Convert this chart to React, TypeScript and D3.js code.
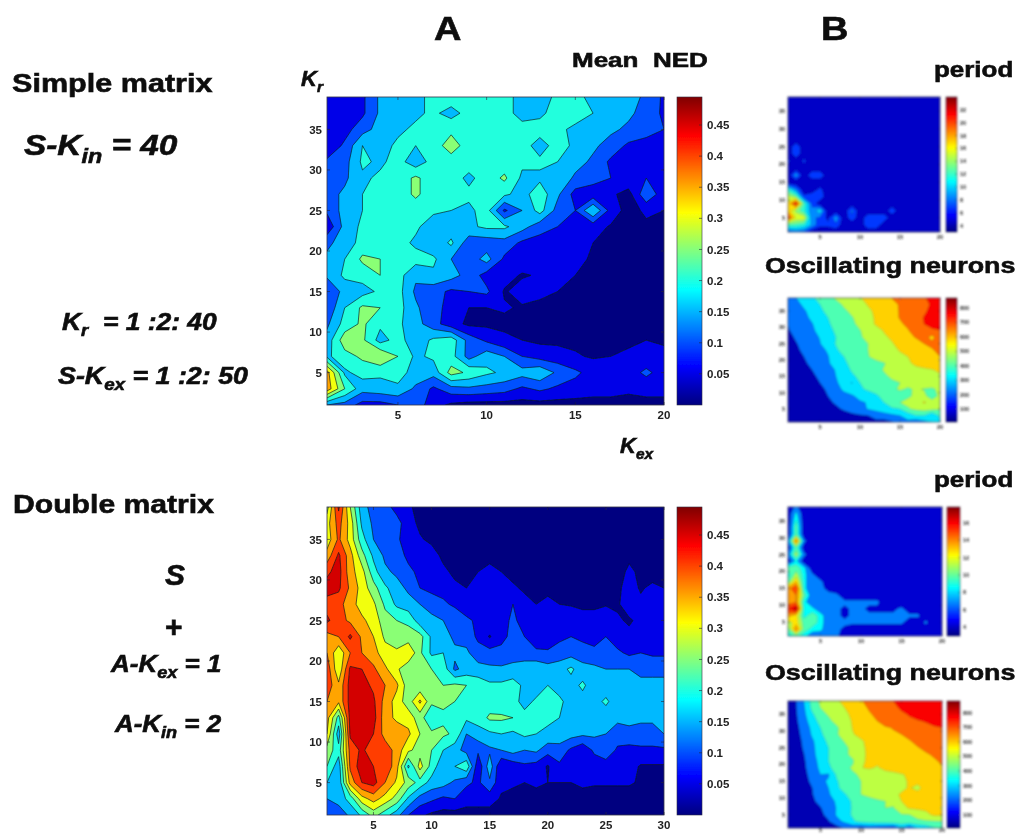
import React from "react";
import * as d3 from "d3";

// ---- Mean NED, simple matrix: rows Kr = 39..1 (step 2), columns Kex = 1..20
const nedSimple = [
  [.08,.07,.09,.16,.18,.19,.21,.23,.22,.22,.21,.19,.18,.21,.21,.19,.18,.17,.14,.09],
  [.07,.07,.09,.16,.17,.19,.21,.18,.22,.23,.22,.18,.19,.22,.22,.2,.18,.16,.13,.09],
  [.05,.08,.13,.17,.19,.21,.22,.24,.22,.22,.22,.22,.22,.21,.19,.17,.16,.14,.12,.1],
  [.06,.11,.2,.18,.21,.2,.23,.27,.23,.22,.22,.22,.18,.22,.19,.16,.13,.09,.08,.08],
  [.11,.13,.21,.19,.22,.17,.22,.23,.22,.22,.22,.21,.21,.2,.17,.14,.09,.08,.07,.07],
  [.12,.14,.19,.21,.22,.26,.22,.22,.19,.22,.26,.19,.19,.19,.14,.12,.1,.09,.1,.08],
  [.13,.16,.2,.21,.22,.26,.22,.21,.21,.25,.21,.18,.23,.16,.08,.07,.06,.03,.14,.07],
  [.11,.17,.2,.22,.22,.22,.21,.2,.19,.22,.09,.15,.22,.13,.1,.2,.08,.03,.06,.05],
  [.06,.17,.21,.22,.22,.21,.17,.17,.19,.21,.21,.17,.12,.1,.08,.07,.045,.04,.04,.04],
  [.14,.17,.22,.22,.22,.19,.16,.21,.12,.12,.13,.09,.08,.07,.06,.05,.04,.04,.04,.04],
  [.16,.2,.26,.25,.22,.22,.21,.15,.12,.17,.09,.08,.055,.1,.06,.045,.04,.04,.04,.04],
  [.16,.21,.22,.25,.22,.16,.19,.17,.13,.08,.07,.045,.055,.05,.05,.04,.04,.04,.04,.04],
  [.1,.17,.18,.21,.22,.14,.12,.09,.1,.11,.045,.07,.06,.05,.045,.045,.05,.04,.04,.04],
  [.11,.2,.26,.25,.22,.16,.11,.09,.05,.05,.055,.045,.04,.04,.04,.04,.04,.04,.04,.04],
  [.14,.22,.26,.21,.21,.17,.12,.07,.04,.04,.04,.03,.03,.03,.03,.03,.03,.03,.03,.03],
  [.17,.28,.26,.18,.22,.17,.21,.23,.13,.09,.06,.05,.04,.04,.04,.04,.04,.04,.05,.04],
  [.19,.23,.26,.3,.25,.19,.21,.22,.13,.18,.15,.1,.08,.07,.055,.045,.05,.06,.07,.07],
  [.37,.19,.22,.21,.22,.18,.17,.27,.24,.21,.19,.17,.19,.14,.11,.08,.08,.08,.11,.08],
  [.38,.25,.17,.18,.19,.14,.09,.13,.14,.13,.12,.09,.11,.09,.08,.07,.07,.06,.07,.07],
  [.15,.13,.08,.08,.1,.13,.07,.04,.03,.03,.03,.03,.03,.03,.03,.03,.03,.03,.03,.03],
];

// ---- Mean NED, double matrix: rows Kr = 39..1, columns Kex = 1..30
const nedDouble = [
  [.28,.46,.3,.17,.13,.12,.08,.06,.03,.03,.03,.03,.03,.03,.03,.03,.03,.03,.03,.03,.03,.03,.03,.03,.03,.03,.03,.03,.03,.03],
  [.33,.42,.33,.19,.14,.13,.12,.07,.04,.03,.03,.03,.03,.03,.03,.03,.03,.03,.03,.03,.03,.03,.03,.03,.03,.03,.03,.03,.03,.03],
  [.32,.41,.33,.22,.15,.13,.11,.07,.055,.04,.03,.03,.03,.03,.03,.03,.03,.03,.03,.03,.03,.03,.03,.03,.03,.03,.03,.03,.03,.03],
  [.37,.46,.37,.27,.19,.14,.12,.09,.07,.07,.04,.03,.03,.03,.03,.03,.03,.03,.03,.03,.03,.03,.03,.03,.03,.03,.04,.03,.03,.03],
  [.44,.47,.37,.32,.22,.16,.14,.11,.09,.08,.06,.04,.04,.05,.07,.05,.04,.03,.03,.03,.03,.03,.03,.03,.03,.03,.06,.04,.03,.03],
  [.47,.46,.39,.33,.27,.21,.17,.14,.1,.09,.08,.06,.05,.06,.07,.07,.055,.045,.04,.045,.04,.04,.04,.04,.04,.04,.07,.045,.06,.05],
  [.43,.42,.37,.33,.31,.24,.19,.17,.15,.12,.11,.09,.07,.08,.08,.09,.1,.06,.05,.055,.05,.045,.045,.045,.045,.045,.07,.06,.05,.05],
  [.46,.42,.39,.36,.33,.27,.25,.24,.17,.17,.15,.14,.11,.09,.09,.08,.11,.08,.06,.07,.08,.09,.06,.06,.09,.055,.045,.06,.06,.06],
  [.38,.4,.46,.39,.35,.29,.27,.27,.27,.19,.17,.14,.13,.09,.045,.09,.11,.1,.07,.06,.09,.1,.09,.07,.1,.07,.06,.07,.07,.07],
  [.4,.31,.4,.4,.37,.32,.31,.35,.26,.19,.2,.16,.16,.12,.12,.11,.12,.13,.11,.11,.12,.13,.12,.12,.1,.11,.09,.1,.09,.09],
  [.43,.31,.46,.45,.41,.36,.31,.26,.26,.25,.23,.14,.17,.17,.16,.16,.17,.17,.19,.17,.18,.21,.17,.16,.15,.15,.15,.14,.14,.14],
  [.43,.36,.47,.47,.44,.4,.36,.27,.26,.26,.25,.26,.25,.23,.21,.21,.22,.19,.17,.2,.18,.18,.21,.17,.17,.16,.16,.16,.16,.16],
  [.4,.36,.47,.47,.46,.38,.33,.27,.36,.26,.26,.25,.23,.22,.22,.21,.22,.18,.21,.22,.21,.18,.18,.18,.21,.17,.17,.16,.16,.16],
  [.37,.23,.47,.48,.47,.37,.34,.33,.27,.21,.24,.21,.21,.22,.26,.26,.25,.22,.21,.21,.2,.18,.17,.17,.17,.16,.16,.16,.16,.16],
  [.35,.17,.46,.47,.45,.38,.38,.36,.3,.26,.26,.24,.15,.18,.19,.2,.19,.21,.2,.19,.18,.17,.16,.16,.15,.13,.14,.13,.13,.15],
  [.28,.22,.42,.46,.42,.43,.38,.31,.28,.25,.2,.17,.13,.11,.14,.15,.17,.15,.16,.12,.13,.09,.06,.11,.14,.09,.08,.09,.09,.09],
  [.25,.17,.41,.48,.45,.44,.37,.19,.32,.23,.16,.2,.24,.06,.18,.05,.07,.09,.08,.045,.09,.07,.08,.07,.07,.08,.07,.045,.045,.045],
  [.2,.16,.37,.45,.47,.4,.34,.28,.23,.18,.17,.14,.11,.09,.14,.06,.055,.05,.06,.05,.05,.05,.06,.055,.055,.055,.055,.045,.03,.03],
  [.15,.17,.22,.33,.37,.33,.28,.19,.13,.11,.09,.1,.07,.07,.07,.045,.04,.03,.03,.03,.03,.03,.03,.03,.03,.03,.03,.03,.03,.03],
  [.1,.12,.16,.21,.27,.22,.17,.1,.06,.04,.03,.03,.03,.03,.03,.03,.03,.03,.03,.03,.03,.03,.03,.03,.03,.03,.03,.03,.03,.03],
];

// ---- Period, simple matrix
const periodSimple = [
  [3,3,3,3,3,3,3,3,3,3,3,3,3,3,3,3,3,3,3,3],
  [3,3,3,3,3,3,3,3,3,3,3,3,3,3,3,3,3,3,3,3],
  [3,3,3,3,3,3,3,3,3,3,3,3,3,3,3,3,3,3,3,3],
  [3,3,3,3,3,3,3,3,3,3,3,3,3,3,3,3,3,3,3,3],
  [3,3,3,3,3,3,3,3,3,3,3,3,3,3,3,3,3,3,3,3],
  [3,3,3,3,3,3,3,3,3,3,3,3,3,3,3,3,3,3,3,3],
  [3,3,3,3,3,3,3,3,3,3,3,3,3,3,3,3,3,3,3,3],
  [3,6,3,3,3,3,3,3,3,3,3,3,3,3,3,3,3,3,3,3],
  [3,6,3,3,3,3,3,3,3,3,3,3,3,3,3,3,3,3,3,3],
  [5,3,5,3,3,3,3,3,3,3,3,3,3,3,3,3,3,3,3,3],
  [3,3,3,3,3,3,3,3,3,3,3,3,3,3,3,3,3,3,3,3],
  [3,8,3,6,6,3,3,3,3,3,3,3,3,3,3,3,3,3,3,3],
  [3,3,3,3,3,3,3,3,3,3,3,3,3,3,3,3,3,3,3,3],
  [11,7,3,3,5,3,3,3,3,3,3,3,3,3,3,3,3,3,3,3],
  [15,13,5,6,6,3,3,3,3,3,3,3,3,3,3,3,3,3,3,3],
  [17,23,12,6,3,3,3,3,3,3,3,3,3,3,3,3,3,3,3,3],
  [18,14,11,7,10,3,3,3,7,3,3,3,3,6,3,3,3,3,3,3],
  [22,16,16,7,6,4,8,3,6,3,6,6,6,3,3,3,3,3,3,3],
  [12,12,11,8,5,5,6,3,3,3,6,6,3,3,3,3,3,3,3,3],
  [6,7,6,3,3,3,3,3,3,3,3,3,3,3,3,3,3,3,3,3],
];

// ---- Oscillating neurons, simple matrix
const oscSimple = [
  [150,198,240,285,330,370,415,445,470,495,525,550,575,602,625,650,670,690,730,760],
  [130,175,215,260,300,335,365,415,440,470,505,535,560,585,605,630,655,680,710,750],
  [115,155,190,230,285,320,350,385,420,450,485,515,545,580,605,630,655,685,725,770],
  [115,145,180,215,260,300,335,370,395,435,475,510,545,575,605,630,660,705,730,760],
  [105,135,170,195,240,290,325,350,385,420,465,510,540,565,590,615,655,700,740,760],
  [92,125,155,185,225,280,310,345,365,397,430,465,505,535,570,595,635,665,680,695],
  [75,110,140,170,205,270,300,335,360,390,425,465,490,510,540,580,605,640,570,670],
  [65,95,125,155,195,260,305,335,355,380,400,435,465,495,520,550,575,600,625,650],
  [55,85,115,145,175,210,290,325,350,370,400,410,445,480,505,535,555,575,590,630],
  [45,75,100,130,160,195,250,300,340,375,395,430,455,470,485,500,525,550,575,600],
  [40,65,90,115,150,190,235,290,315,330,355,375,395,430,465,485,520,540,560,580],
  [35,55,80,100,130,175,205,265,310,330,350,380,405,425,445,465,475,485,495,520],
  [30,50,70,90,110,160,200,240,285,320,345,370,390,410,425,440,450,460,470,485],
  [25,45,60,80,100,130,190,230,195,300,335,360,395,390,400,425,440,450,465,480],
  [20,35,50,70,85,110,160,220,250,290,310,340,375,385,410,390,410,395,380,430],
  [15,30,45,60,75,100,130,165,190,225,260,285,330,345,350,385,420,440,320,440],
  [12,25,35,50,65,85,110,140,165,190,205,260,300,340,400,425,450,510,470,480],
  [10,20,28,40,50,65,85,110,140,170,205,230,265,290,300,390,420,440,430,410],
  [8,15,22,30,40,50,60,70,80,90,100,130,150,180,200,240,300,300,200,330],
  [5,10,15,20,25,30,35,40,50,60,70,80,70,90,150,180,130,170,200,280],
];

// ---- Period, double matrix
const periodDouble = [
  [0,1,0,0,0,0,0,0,0,0,0,0,0,0,0,0,0,0,0,0],
  [0,2,0,0,0,0,0,0,0,0,0,0,0,0,0,0,0,0,0,0],
  [0,2.5,0,0,0,0,0,0,0,0,0,0,0,0,0,0,0,0,0,0],
  [0,3,0,0,0,0,0,0,0,0,0,0,0,0,0,0,0,0,0,0],
  [0,3,0,0,0,0,0,0,0,0,0,0,0,0,0,0,0,0,0,0],
  [1,6.5,1,0,0,0,0,0,0,0,0,0,0,0,0,0,0,0,0,0],
  [0,3,0,0,0,0,0,0,0,0,0,0,0,0,0,0,0,0,0,0],
  [1,4,1,0,0,0,0,0,0,0,0,0,0,0,0,0,0,0,0,0],
  [0,2,0,0,0,0,0,0,0,0,0,0,0,0,0,0,0,0,0,0],
  [3,3,2,0,0,0,0,0,0,0,0,0,0,0,0,0,0,0,0,0],
  [2,4,2,1,0,0,0,0,0,0,0,0,0,0,0,0,0,0,0,0],
  [3,5.5,2,1,1,0,0,0,0,0,0,0,0,0,0,0,0,0,0,0],
  [6,7.5,2,1,1,.5,0,0,0,0,0,0,0,0,0,0,0,0,0,0],
  [6,6.5,3,1,1,1,1,0,0,0,0,0,0,0,0,0,0,0,0,0],
  [6,6.5,2,1,1,1,1,1,1,1,1,1,0,0,0,0,0,0,0,0],
  [7.5,9,2,2,1,1,1,.5,1,1,.5,.5,.5,.5,1,0,0,0,0,0],
  [6,5,2.2,3,2.2,1,1,.5,1,1,1,1,1,1,1,1,1,0,0,0],
  [4,5,3,3,2.2,1,1,1,1,1,1,1,1,1,1,0,0,1,0,0],
  [3,6.5,3,2.2,2,1,1,.5,0,0,0,0,0,0,0,0,0,0,0,0],
  [2,3,2,1,1,1,1,0,0,0,0,0,0,0,0,0,0,0,0,0],
];

// ---- Oscillating neurons, double matrix
const oscDouble = [
  [80,98,205,340,420,445,490,520,560,595,620,640,665,700,720,730,745,755,765,775],
  [75,95,190,330,400,430,470,500,530,570,610,635,660,685,710,735,745,755,765,775],
  [70,90,180,285,370,410,450,485,515,550,590,620,645,670,690,705,730,745,760,770],
  [65,85,160,260,330,380,430,480,505,540,575,600,640,655,675,690,695,705,730,745],
  [60,80,135,230,300,360,385,450,505,530,555,575,590,605,625,650,665,680,690,700],
  [55,75,125,215,280,350,390,445,495,520,545,565,580,590,600,625,640,655,670,680],
  [50,70,115,185,260,320,375,405,460,490,520,535,555,570,585,595,625,640,655,670],
  [45,65,110,180,245,300,345,385,420,480,520,530,540,555,570,585,595,620,640,650],
  [40,60,100,175,240,300,345,385,420,480,515,525,535,545,555,565,575,590,610,640],
  [35,55,90,160,230,300,325,375,390,490,510,520,530,540,550,560,570,580,590,610],
  [30,50,85,150,220,280,345,380,410,495,515,490,525,535,545,555,565,575,585,595],
  [28,45,80,130,200,190,315,365,390,410,430,450,465,480,495,510,525,540,550,560],
  [25,42,70,120,180,210,290,350,385,400,425,440,455,470,490,505,520,530,540,555],
  [22,40,65,100,170,200,280,340,380,400,415,430,445,470,490,505,480,530,540,550],
  [20,38,60,95,150,190,240,290,350,400,420,445,470,490,505,515,525,530,535,540],
  [18,35,55,85,125,170,210,270,310,340,370,385,400,420,500,515,525,530,535,540],
  [15,30,50,75,95,140,205,260,310,350,370,385,400,395,470,510,520,525,530,490],
  [12,25,40,60,85,120,210,270,310,330,350,370,380,390,395,400,430,470,520,520],
  [10,20,32,50,70,95,170,220,290,325,340,350,360,370,375,380,385,390,395,400],
  [6,12,20,30,40,50,60,110,120,90,120,100,80,70,180,90,200,240,290,330],
];

const nedLevels = [.05,.1,.15,.2,.25,.3,.35,.4,.45];
const nedColorbarTicks = [.05,.1,.15,.2,.25,.3,.35,.4,.45];
const periodLevels = [4.5,6.5,8.5,10.5,12.5,14.5,16.5,18.5,20.5,22.5];
const periodSimpleTicks = [4,6,8,10,12,14,16,18,20,22];
const periodDoubleLevels = [.75,1.75,2.5,3.5,4.5,5.5,6.5,7.5,8.5];
const periodDoubleTicks = [4,6,8,10,12,14,16];
const oscLevels = [100,200,300,400,500,600,700,800];
const oscTicks = [100,200,300,400,500,600,700,800];
const krTicks = [5,10,15,20,25,30,35];
const kexTicks20 = [5,10,15,20];
const kexTicks30 = [5,10,15,20,25,30];

const clamp = (v: number) => Math.max(0, Math.min(1, v));
function jet(t: number) {
  const r = clamp(Math.min(4 * t - 1.5, -4 * t + 4.5));
  const g = clamp(Math.min(4 * t - 0.5, -4 * t + 3.5));
  const b = clamp(Math.min(4 * t + 0.5, -4 * t + 2.5));
  return d3.rgb(r * 255, g * 255, b * 255).formatHex();
}

const FONT = "'Liberation Sans', Arial, sans-serif";

type PanelProps = {
  id: string; grid: number[][]; levels: number[]; bandT: number[];
  box: [number, number, number, number]; bar: [number, number];
  xDomain: [number, number]; yDomain: [number, number];
  xTicks: number[]; yTicks: number[]; barTicks: number[]; barDomain: [number, number];
  barFmt: (v: number) => string; fontSize: number; tickLen: number;
  lineOpacity: number; lineWidth: number; blur: string; labelGap: number; xLabelGap: number;
};

function Panel(p: PanelProps) {
  const [x0, y0, x1, y1] = p.box;
  const nRows = p.grid.length, nCols = p.grid[0].length;
  const flat = p.grid.flat();
  const sx = d3.scaleLinear([0.5, nCols - 0.5], [x0, x1]);
  const sy = d3.scaleLinear([0.5, nRows - 0.5], [y0, y1]);
  const path = d3.geoPath(d3.geoTransform({
    point(x: number, y: number) { (this as any).stream.point(sx(x), sy(y)); },
  }));
  const contours = d3.contours().size([nCols, nRows]).thresholds(p.levels)(flat);
  const ax = d3.scaleLinear(p.xDomain, [x0, x1]);
  const ay = d3.scaleLinear(p.yDomain, [y1, y0]);
  const by = d3.scaleLinear(p.barDomain, [y1, y0]);
  const stops = d3.range(0, 65).map((i) => i / 64);
  return (
    <g filter={`url(#${p.blur})`} fontFamily={FONT} fontWeight="bold" fontSize={p.fontSize} fill="#222">
      <defs>
        <clipPath id={`clip-${p.id}`}><rect x={x0} y={y0} width={x1 - x0} height={y1 - y0} /></clipPath>
        <linearGradient id={`grad-${p.id}`} x1="0" y1="1" x2="0" y2="0">
          {stops.map((t) => <stop key={t} offset={t} stopColor={jet(t)} />)}
        </linearGradient>
      </defs>
      <g clipPath={`url(#clip-${p.id})`}>
        <rect x={x0} y={y0} width={x1 - x0} height={y1 - y0} fill={jet(p.bandT[0])} />
        {contours.map((c, i) => (
          <path key={i} d={path(c as any) || ""} fill={jet(p.bandT[i + 1])}
            stroke="#0c1c1c" strokeOpacity={p.lineOpacity} strokeWidth={p.lineWidth} strokeLinejoin="round" />
        ))}
      </g>
      <rect x={x0} y={y0} width={x1 - x0} height={y1 - y0} fill="none" stroke="#334" strokeWidth={0.8} />
      {p.xTicks.map((t) => (
        <g key={t}>
          <line x1={ax(t)} x2={ax(t)} y1={y1} y2={y1 - p.tickLen} stroke="#223" strokeWidth={0.6} />
          <line x1={ax(t)} x2={ax(t)} y1={y0} y2={y0 + p.tickLen} stroke="#223" strokeWidth={0.6} />
          <text x={ax(t)} y={y1 + p.xLabelGap + p.fontSize * 0.72} textAnchor="middle">{t}</text>
        </g>
      ))}
      {p.yTicks.map((t) => (
        <g key={t}>
          <line x1={x0} x2={x0 + p.tickLen} y1={ay(t)} y2={ay(t)} stroke="#223" strokeWidth={0.6} />
          <line x1={x1} x2={x1 - p.tickLen} y1={ay(t)} y2={ay(t)} stroke="#223" strokeWidth={0.6} />
          <text x={x0 - p.labelGap} y={ay(t) + p.fontSize * 0.36} textAnchor="end">{t}</text>
        </g>
      ))}
      <rect x={p.bar[0]} y={y0} width={p.bar[1] - p.bar[0]} height={y1 - y0} fill={`url(#grad-${p.id})`} stroke="#334" strokeWidth={0.6} />
      {p.barTicks.map((t) => (
        <g key={t}>
          <line x1={p.bar[1]} x2={p.bar[1] - p.tickLen} y1={by(t)} y2={by(t)} stroke="#223" strokeWidth={0.6} />
          <text x={p.bar[1] + p.labelGap} y={by(t) + p.fontSize * 0.36}>{p.barFmt(t)}</text>
        </g>
      ))}
    </g>
  );
}

type Seg = [string, boolean?];
function Label({ x, y, size, italic = true, segs, stretch = 1 }: { x: number; y: number; size: number; italic?: boolean; segs: Seg[]; stretch?: number }) {
  return (
    <text transform={`translate(${x},${y}) scale(${stretch},1)`} fontFamily={FONT} fontWeight="bold"
      fontStyle={italic ? "italic" : "normal"} fontSize={size}
      fill="#111" stroke="#111" strokeWidth={0.6} xmlSpace="preserve">
      {segs.map(([s, sub], i) => {
        const prevSub = i > 0 && segs[i - 1][1];
        const dy = sub ? size * 0.28 : prevSub ? -size * 0.28 : 0;
        return <tspan key={i} dy={dy} fontSize={sub ? size * 0.7 : size}>{s}</tspan>;
      })}
    </text>
  );
}

const fmtNed = (v: number) => String(+v.toFixed(2));
const fmtInt = (v: number) => String(v);

export default function App() {
  const bigBase = {
    fontSize: 11.5, tickLen: 3, lineOpacity: 0.75, lineWidth: 0.9, blur: "soft", labelGap: 5, xLabelGap: 6,
    yDomain: [1, 39] as [number, number], yTicks: krTicks,
    barTicks: nedColorbarTicks, barDomain: [0, 0.495] as [number, number], barFmt: fmtNed,
    levels: nedLevels, bandT: [0, ...nedLevels.map((l) => l / 0.49)],
  };
  const smallBase = {
    fontSize: 5.5, tickLen: 1.5, lineOpacity: 0.3, lineWidth: 0.5, blur: "softer", labelGap: 3, xLabelGap: 3,
    yDomain: [1, 39] as [number, number], yTicks: krTicks, xDomain: [1, 20] as [number, number],
    xTicks: kexTicks20, barFmt: fmtInt,
  };
  const oscT = [0.05, 0.24, 0.35, 0.45, 0.56, 0.67, 0.77, 0.88, 0.95];
  return (
    <svg width={1020} height={834} viewBox="0 0 1020 834"
      style={{ position: "absolute", left: 0, top: 0, display: "block", background: "#fff" }}>
      <defs>
        <filter id="soft" x="-5%" y="-5%" width="110%" height="110%"><feGaussianBlur stdDeviation="0.6" /></filter>
        <filter id="softer" x="-5%" y="-5%" width="110%" height="110%"><feGaussianBlur stdDeviation="0.9" /></filter>
        <filter id="text" x="-5%" y="-5%" width="110%" height="110%"><feGaussianBlur stdDeviation="0.4" /></filter>
      </defs>

      <Panel id="a1" {...bigBase} grid={nedSimple} box={[327, 97, 664, 405]} bar={[677, 702]} xDomain={[1, 20]} xTicks={kexTicks20} />
      <Panel id="a2" {...bigBase} grid={nedDouble} box={[327, 507, 664, 815]} bar={[677, 702]} xDomain={[1, 30]} xTicks={kexTicks30} />
      <Panel id="b1" {...smallBase} grid={periodSimple} levels={periodLevels}
        bandT={[0.07, ...periodLevels.map((l) => l / 25)]} box={[788, 97, 940, 232]} bar={[946, 957]}
        barTicks={periodSimpleTicks} barDomain={[3, 24]} />
      <Panel id="b2" {...smallBase} grid={oscSimple} levels={oscLevels} bandT={oscT}
        box={[788, 298, 940, 422]} bar={[946, 957]} barTicks={oscTicks} barDomain={[10, 870]} />
      <Panel id="b3" {...smallBase} grid={periodDouble} levels={periodDoubleLevels}
        bandT={[0.08, 0.25, 0.38, 0.45, 0.55, 0.65, 0.72, 0.8, 0.88, 0.95]} box={[788, 507, 942, 636]} bar={[947, 960]}
        barTicks={periodDoubleTicks} barDomain={[3, 17.8]} />
      <Panel id="b4" {...smallBase} grid={oscDouble} levels={oscLevels} bandT={oscT} xLabelGap={0.5}
        box={[788, 701, 942, 828]} bar={[947, 960]} barTicks={oscTicks} barDomain={[10, 880]} />

      <g filter="url(#text)">
        <Label x={434} y={40} size={33} italic={false} segs={[["A"]]} stretch={1.15} />
        <Label x={821} y={40} size={33} italic={false} segs={[["B"]]} stretch={1.15} />
        <Label x={572} y={67} size={20} italic={false} segs={[["Mean  NED"]]} stretch={1.3} />
        <Label x={301} y={86} size={22} segs={[["K"], ["r", true]]} />
        <Label x={620} y={453} size={22} segs={[["K"], ["ex", true]]} />
        <Label x={12} y={92} size={26} italic={false} segs={[["Simple matrix"]]} stretch={1.176} />
        <Label x={24} y={155} size={29} segs={[["S-K"], ["in", true], [" = 40"]]} stretch={1.15} />
        <Label x={62} y={330} size={23} segs={[["K"], ["r", true], ["  = 1 :2: 40"]]} stretch={1.148} />
        <Label x={58} y={384} size={23} segs={[["S-K"], ["ex", true], [" = 1 :2: 50"]]} stretch={1.166} />
        <Label x={13} y={513} size={26} italic={false} segs={[["Double matrix"]]} stretch={1.16} />
        <Label x={165} y={585} size={30} segs={[["S"]]} />
        <Label x={165} y={637} size={30} italic={false} segs={[["+"]]} />
        <Label x={111} y={672} size={23} segs={[["A-K"], ["ex", true], [" = 1"]]} stretch={1.13} />
        <Label x={115} y={732} size={23} segs={[["A-K"], ["in", true], [" = 2"]]} stretch={1.126} />
        <Label x={934} y={77} size={22} italic={false} segs={[["period"]]} stretch={1.18} />
        <Label x={934} y={487} size={22} italic={false} segs={[["period"]]} stretch={1.18} />
        <Label x={765} y={273} size={22} italic={false} segs={[["Oscillating neurons"]]} stretch={1.22} />
        <Label x={765} y={680} size={22} italic={false} segs={[["Oscillating neurons"]]} stretch={1.22} />
      </g>
    </svg>
  );
}
